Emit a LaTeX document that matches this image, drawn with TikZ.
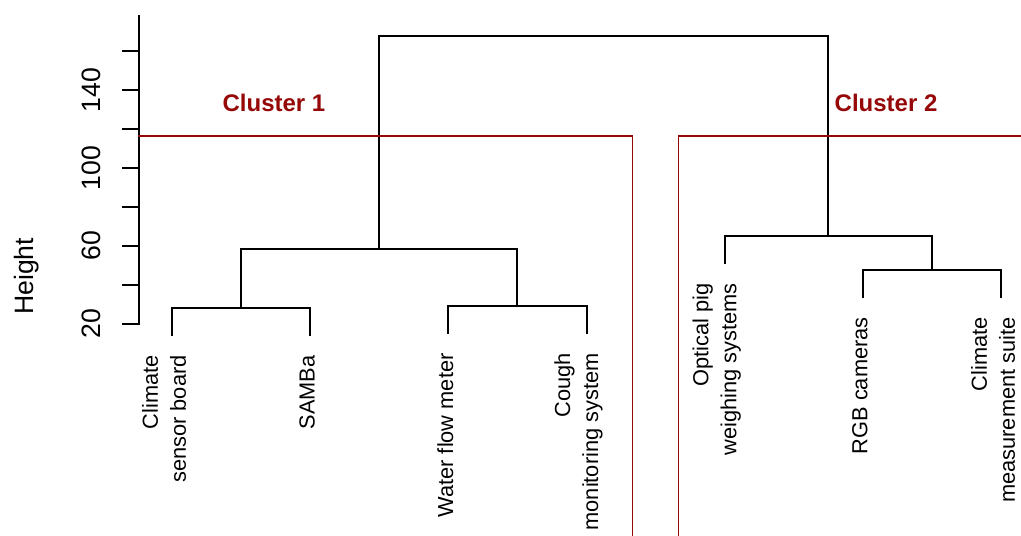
\documentclass[tikz,border=0pt]{standalone}
\usepackage{fontspec}
\setmainfont{Liberation Sans}
\usepackage{tikz}
\definecolor{cutred}{RGB}{150,8,8}
\tikzset{
  branch/.style={line width=1pt,color=black},
  cutline/.style={line width=0.8pt,color=cutred},
  leaflab/.style={rotate=90,anchor=east,inner sep=0pt,align=right,font=\fontsize{10.9}{14}\selectfont},
  ticklab/.style={rotate=90,anchor=base,inner sep=0pt,font=\fontsize{13.3}{16}\selectfont},
  clusterlab/.style={anchor=base,inner sep=0pt,text=cutred,font=\fontsize{12}{14}\selectfont\bfseries}
}
\begin{document}
\begin{tikzpicture}[line cap=rect,line join=miter,x=69.085pt,y=0.975pt]
        \useasboundingbox (-0.2449,-88.72) rectangle (7.1446,186.15);
        % axis
        \draw[line width=0.8pt] (0.761,20) -- (0.761,178);
        \foreach \h in {20,40,...,160}
        \draw[line width=0.8pt] (0.761,\h) -- ++(-8pt,0);
        \foreach \h in {20,60,100,140}
        \node[ticklab] at (0.479,\h) {\h};
        \node[ticklab] (ylab) at (-0.006,44.4) {Height};
        % leaves and merges
        \coordinate (l1) at (1,14.35);
        \coordinate (l2) at (2,14.35);
        \coordinate (l3) at (3,15.35);
        \coordinate (l4) at (4,15.35);
        \coordinate (l5) at (5,51.25);
        \coordinate (l6) at (6,33.85);
        \coordinate (l7) at (7,33.85);
        \coordinate (m12) at (1.5,28.2);
        \coordinate (m34) at (3.5,29.2);
        \coordinate (m1234) at (2.5,58.5);
        \coordinate (m67) at (6.5,47.7);
        \coordinate (m567) at (5.75,65.1);
        \coordinate (top) at (4.125,167.7);
        \draw[branch] (l1) |- (m12) -| (l2);
        \draw[branch] (l3) |- (m34) -| (l4);
        \draw[branch] (m12) |- (m1234) -| (m34);
        \draw[branch] (l6) |- (m67) -| (l7);
        \draw[branch] (l5) |- (m567) -| (m67);
        \draw[branch] (m1234) |- (top) -| (m567);
        % leaf labels
        \node[leaflab] (t1) at ([xshift=-4pt,yshift=-10pt]l1) {Climate\\sensor board};
        \node[leaflab] (t2) at ([xshift=-1.5pt,yshift=-10pt]l2) {SAMBa};
        \node[leaflab] (t3) at ([xshift=-1.5pt,yshift=-10pt]l3) {Water flow meter};
        \node[leaflab] (t4) at ([xshift=-4pt,yshift=-10pt]l4) {Cough\\monitoring system};
        \node[leaflab] (t5) at ([xshift=-4pt,yshift=-10pt]l5) {Optical pig\\weighing systems};
        \node[leaflab] (t6) at ([xshift=-1.5pt,yshift=-10pt]l6) {RGB cameras};
        \node[leaflab] (t7) at ([xshift=-4pt,yshift=-10pt]l7) {Climate\\measurement suite};
        % cut into clusters
        \coordinate (c1a) at (0.761,116.4);
        \coordinate (c1b) at (4.333,-88.72);
        \coordinate (c2a) at (4.667,-88.72);
        \coordinate (c2b) at (7.1446,116.4);
        \draw[cutline] (c1a) -| (c1b);
        \draw[cutline] (c2a) |- (c2b);
        \node[clusterlab] (k1) at (1.738,129.2) {Cluster 1};
        \node[clusterlab] (k2) at (6.168,129.2) {Cluster 2};
      \end{tikzpicture}
\end{document}
